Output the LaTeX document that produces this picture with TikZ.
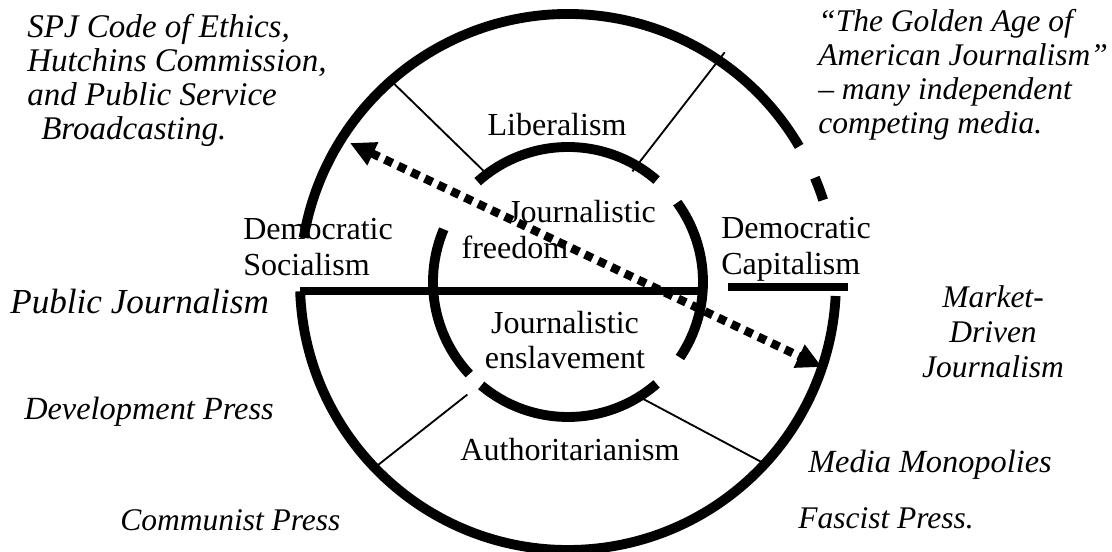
\documentclass[tikz,border=0pt]{standalone}
\usepackage{fontspec}
\setmainfont{Liberation Serif}
\usepackage{tikz}
\usetikzlibrary{arrows.meta}
\tikzset{ring/.style={line width=7pt},
  bar/.style={line width=5.5pt},
  spoke/.style={line width=1.3pt},
  dots/.style={line width=6pt,dash pattern=on 6pt off 4.5pt},
  lbl/.style={font=\fontsize{22.8}{25.5}\selectfont,inner sep=0pt},
  note/.style={font=\fontsize{23}{24.2}\selectfont\itshape,inner sep=0pt}}

\begin{document}
\begin{tikzpicture}[x=0.025cm,y=0.025cm]
        \useasboundingbox[fill=white] (0,0) rectangle (1112,552);
        \coordinate (c) at (568,270);

        % outer ring
        \draw[ring] ([shift={(c)}]30.4:268) arc[start angle=30.4,end angle=170.5,radius=268];
        \draw[ring] ([shift={(c)}]17.8:268) arc[start angle=17.8,end angle=22.9,radius=268];
        \draw[ring] ([shift={(c)}]182:268) arc[start angle=182,end angle=357,radius=268];
        % inner ring
        \draw[ring] ([shift={(c)}]49:135) arc[start angle=49,end angle=132,radius=135];
        \draw[ring] ([shift={(c)}]-34:135) arc[start angle=-34,end angle=36,radius=135];
        \draw[ring] ([shift={(c)}]157:135) arc[start angle=157,end angle=223,radius=135];
        \draw[ring] ([shift={(c)}]230:135) arc[start angle=230,end angle=311,radius=135];

        % dividing lines
        \coordinate (hl) at (300,261);
        \coordinate (hr) at (703,261);
        \coordinate (cl) at (728,265);
        \coordinate (cr) at (848,265);
        \draw[bar] (hl) -- (hr);
        \draw[bar] (cl) -- (cr);

        \coordinate (ula) at ([shift={(c)}]127:136);
        \coordinate (ulb) at ([shift={(c)}]131.3:266);
        \coordinate (ura) at ([shift={(c)}]59.8:128);
        \coordinate (urb) at ([shift={(c)}]55.7:278);
        \coordinate (lla) at ([shift={(c)}]228.2:151);
        \coordinate (llb) at ([shift={(c)}]223.8:270);
        \coordinate (lra) at ([shift={(c)}]-57.5:138);
        \coordinate (lrb) at ([shift={(c)}]-42.9:265);
        \draw[spoke] (ula) -- (ulb);
        \draw[spoke] (ura) -- (urb);
        \draw[spoke] (lla) -- (llb);
        \draw[spoke] (lra) -- (lrb);

        % labels inside
        \node[lbl] (lib) at (557,427) {Liberalism};
        \node[lbl] (jfa) at (582,340) {Journalistic};
        \node[lbl] (jfb) at (515,305) {freedom};
        \node[lbl,align=center] (jens) at (565,212) {Journalistic\\enslavement};
        \node[lbl] (auth) at (570,102) {Authoritarianism};
        \node[lbl,align=left,anchor=west] (dsoc) at (243,305) {Democratic\\Socialism};
        \node[lbl,align=left,anchor=west] (dcap) at (721,303) {Democratic\\Capitalism};

        % notes outside
        \node[note,font=\fontsize{23.5}{24.2}\selectfont\itshape,align=left,anchor=west] (spj) at (27,472)
            {SPJ Code of Ethics,\\Hutchins Commission,\\and Public Service\\\hspace*{0.35cm}Broadcasting.};
        \node[note,font=\fontsize{22.4}{24.2}\selectfont\itshape,align=left,anchor=west] (gold) at (818,477)
            {``The Golden Age of\\American Journalism''\\-- many independent\\competing media.};
        \node[note,font=\fontsize{25}{27}\selectfont\itshape,anchor=west] (pubj) at (10,250) {Public Journalism};
        \node[note,font=\fontsize{22.4}{25}\selectfont\itshape,align=center] (mkt) at (993,220) {Market-\\Driven\\Journalism};
        \node[note,anchor=west] (devp) at (24,140) {Development Press};
        \node[note,anchor=west] (mono) at (808,87) {Media Monopolies};
        \node[note,font=\fontsize{22.4}{24.2}\selectfont\itshape,anchor=west] (comm) at (120,32) {Communist Press};
        \node[note,font=\fontsize{22.4}{24.2}\selectfont\itshape,anchor=west] (fasc) at (798,34) {Fascist Press.};

        % double arrow
        \coordinate (ta) at (350,409);
        \coordinate (tb) at (822,185);
        \draw[dots,{Triangle[length=18pt,width=17pt]}-{Triangle[length=18pt,width=17pt]}] (ta) -- (tb);
\end{tikzpicture}
\end{document}
